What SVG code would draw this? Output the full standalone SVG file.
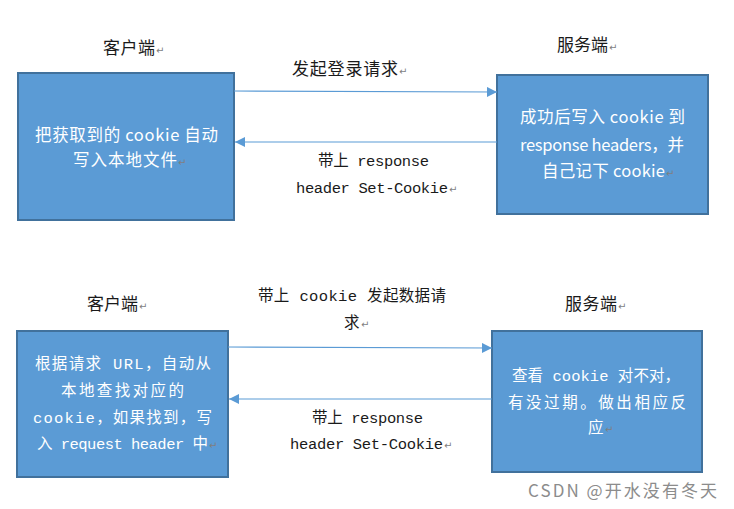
<svg xmlns="http://www.w3.org/2000/svg" width="734" height="509" viewBox="0 0 734 509">
<defs>
<marker id="ah" markerUnits="userSpaceOnUse" markerWidth="10" markerHeight="10" refX="10" refY="5" orient="auto"><path d="M0,0 L10,5 L0,10 z" fill="#5B9BD5"/></marker>
<style>
.box{fill:#5B9BD5;stroke:#41719C;stroke-width:2}
.cn{font-family:"Noto Sans CJK SC",sans-serif;font-size:17px;fill:#1a1a1a}
.sans{font-family:"Noto Sans CJK SC",sans-serif;font-size:16.5px;fill:#ffffff}
.mono{font-family:"Liberation Mono","Noto Sans CJK SC",monospace;font-size:15.5px;fill:#1a1a1a}
.w{fill:#ffffff}
.pm{font-family:"DejaVu Sans",sans-serif;font-size:10px;fill:#7f7f7f}
.conn{stroke:#5B9BD5;stroke-width:1.2;fill:none;marker-end:url(#ah)}
.wm{font-family:"Noto Sans CJK SC",sans-serif;font-size:17px;fill:#8c8c8c}
</style>
</defs>
<rect width="734" height="509" fill="#ffffff"/>

<g id="client1">
<text class="cn" x="103" y="54" textLength="52">客户端</text><text class="pm" x="156" y="54">↵</text>
<rect class="box" x="18" y="73" width="216" height="147"/>
<text class="sans" x="35" y="141" textLength="183">把获取到的 cookie 自动</text>
<text class="sans" x="73" y="166" textLength="104">写入本地文件</text><text class="pm" x="178" y="166">↵</text>
</g>

<g id="server1">
<text class="cn" x="557" y="51" textLength="51">服务端</text><text class="pm" x="609" y="51">↵</text>
<rect class="box" x="497" y="75" width="211" height="139"/>
<text class="sans" x="520" y="123" textLength="165">成功后写入 cookie 到</text>
<text class="sans" x="520" y="151" textLength="164">response headers，并</text>
<text class="sans" x="542" y="177" textLength="123">自己记下 cookie</text><text class="pm" x="666" y="177">↵</text>
</g>

<g id="client2">
<text class="cn" x="87" y="310" textLength="51">客户端</text><text class="pm" x="139" y="310">↵</text>
<rect class="box" x="17" y="331" width="211" height="146"/>
<text class="mono w" x="35" y="369" textLength="176">根据请求 URL，自动从</text>
<text class="mono w" x="61" y="396" textLength="123">本地查找对应的</text>
<text class="mono w" x="33" y="423" textLength="179">cookie，如果找到，写</text>
<text class="mono w" x="37" y="449" textLength="171">入 request header 中</text><text class="pm" x="209" y="449">↵</text>
</g>

<g id="server2">
<text class="cn" x="565" y="310" textLength="52">服务端</text><text class="pm" x="618" y="310">↵</text>
<rect class="box" x="492" y="331" width="210" height="141"/>
<text class="mono w" x="512" y="381" textLength="168">查看 cookie 对不对，</text>
<text class="mono w" x="508" y="408" textLength="178">有没过期。做出相应反</text>
<text class="mono w" x="588" y="433">应</text><text class="pm" x="605" y="433">↵</text>
</g>

<g id="connectors">
<path class="conn" d="M234,91 L497,92"/>
<path class="conn" d="M497,142 L235,142"/>
<path class="conn" d="M228,347 L492,348"/>
<path class="conn" d="M492,399 L229,399"/>
<text class="cn" x="292" y="75" textLength="106">发起登录请求</text><text class="pm" x="399" y="75">↵</text>
<text class="mono" x="318" y="166" textLength="111">带上 response</text>
<text class="mono" x="296" y="193" textLength="152">header Set-Cookie</text><text class="pm" x="449" y="193">↵</text>
<text class="mono" x="258" y="301" textLength="188">带上 cookie 发起数据请</text>
<text class="mono" x="344" y="328">求</text><text class="pm" x="361" y="328">↵</text>
<text class="mono" x="312" y="423" textLength="111">带上 response</text>
<text class="mono" x="290" y="449" textLength="153">header Set-Cookie</text><text class="pm" x="444" y="449">↵</text>
</g>

<text class="wm" x="528" y="497" textLength="189">CSDN @开水没有冬天</text>
</svg>
